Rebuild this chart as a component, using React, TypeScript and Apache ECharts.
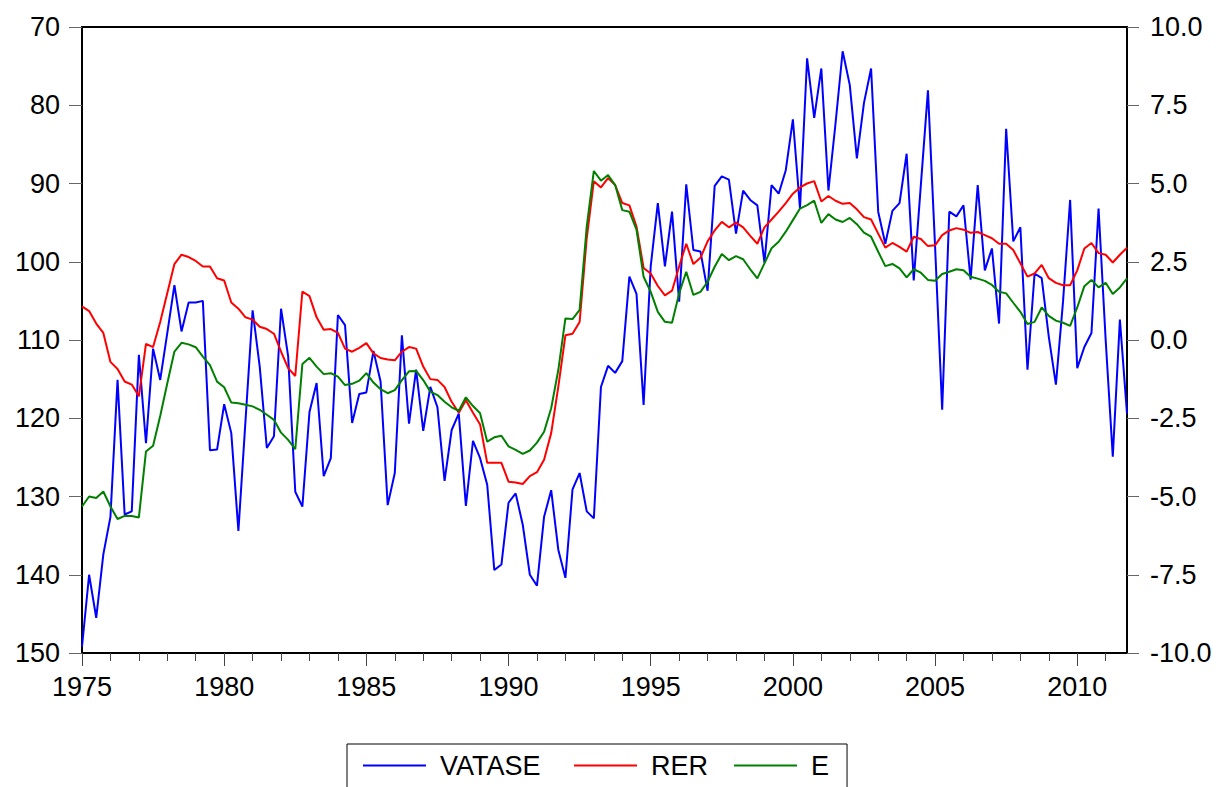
import React, { useEffect, useRef } from "react";
import * as echarts from "echarts";

// Quarterly observations 1975Q1 .. 2011Q4
const START_YEAR = 1975;
const END_YEAR = 2011;

const VATASE = [
  149.2, 140.0, 145.5, 137.4, 132.6, 115.1, 132.3, 131.9, 111.9, 123.2, 111.1, 115.1, 109.1, 103.0, 108.9, 105.2, 105.2, 105.0, 124.1, 124.0, 118.2, 121.9, 134.4, 120.3, 106.2,
  113.4, 123.8, 122.3, 106.0, 112.1, 129.4, 131.3, 119.2, 115.5, 127.4, 125.1, 106.8, 108.1, 120.6, 116.9, 116.7, 111.4, 115.3, 131.1, 127.0, 109.4, 120.7, 113.8, 121.6,
  116.0, 118.6, 128.0, 121.5, 119.4, 131.2, 122.9, 125.1, 128.5, 139.4, 138.7, 130.8, 129.6, 133.6, 140.0, 141.4, 132.6, 129.2, 136.8, 140.4, 129.1, 127.0, 131.9, 132.8,
  116.0, 113.3, 114.2, 112.7, 101.9, 104.1, 118.3, 100.6, 92.5, 100.6, 93.6, 105.1, 90.1, 98.5, 98.7, 103.7, 90.3, 89.1, 89.5, 96.4, 90.9, 92.1, 92.8, 100.1,
  90.2, 91.3, 88.3, 81.8, 93.2, 74.0, 81.6, 75.3, 90.9, 82.3, 73.1, 77.4, 86.8, 79.7, 75.3, 93.6, 97.7, 93.5, 92.5, 86.2, 102.4, 90.2, 78.1, 98.0,
  118.9, 93.6, 94.2, 92.8, 102.3, 90.2, 101.1, 98.3, 107.9, 83.0, 97.4, 95.6, 113.8, 101.5, 102.1, 109.6, 115.7, 105.1, 92.1, 113.6, 110.9, 109.1, 93.2, 110.0, 124.9, 107.4, 119.4,
];

const RER = [
  105.7, 106.3, 107.9, 109.1, 112.8, 113.7, 115.3, 115.7, 117.2, 110.5, 110.9, 107.7, 104.0, 100.3, 99.1, 99.4, 99.9, 100.6, 100.6, 102.1, 102.4, 105.2, 106.0, 107.1, 107.4,
  108.3, 108.6, 109.2, 111.5, 113.6, 114.6, 103.8, 104.4, 107.1, 108.7, 108.6, 109.1, 111.1, 111.5, 111.0, 110.4, 111.7, 112.3, 112.5, 112.6, 111.5, 110.9, 111.1, 113.4,
  115.0, 115.1, 116.0, 117.9, 119.3, 117.7, 119.3, 120.8, 125.7, 125.7, 125.7, 128.1, 128.2, 128.4, 127.4, 126.9, 125.3, 121.9, 116.0, 109.4, 109.2, 107.7, 97.0, 89.7,
  90.5, 89.3, 90.2, 92.5, 92.8, 95.5, 100.8, 101.5, 103.1, 104.3, 103.7, 100.6, 97.7, 100.3, 99.5, 97.4, 96.0, 94.9, 95.6, 95.0, 95.6, 96.7, 97.7, 95.6,
  94.6, 93.6, 92.5, 91.3, 90.5, 90.0, 89.7, 92.3, 91.6, 92.2, 92.6, 92.5, 93.3, 94.3, 94.6, 96.4, 98.2, 97.6, 98.1, 98.7, 96.8, 97.1, 98.0, 97.9,
  96.6, 96.0, 95.7, 95.9, 96.3, 96.2, 96.6, 97.0, 97.7, 97.7, 98.5, 100.2, 101.9, 101.5, 100.4, 102.1, 102.7, 103.0, 103.0, 101.1, 98.3, 97.6, 98.9, 99.1, 100.1, 99.1, 98.2,
];

const E = [
  -5.32, -5.0, -5.05, -4.84, -5.32, -5.72, -5.62, -5.62, -5.67, -3.56, -3.38, -2.43, -1.38, -0.37, -0.09, -0.14, -0.23, -0.53, -0.8, -1.33, -1.51, -2.0, -2.02, -2.07, -2.12,
  -2.23, -2.39, -2.55, -2.96, -3.19, -3.49, -0.77, -0.57, -0.85, -1.09, -1.06, -1.17, -1.44, -1.4, -1.3, -1.06, -1.36, -1.57, -1.7, -1.6, -1.28, -1.0, -0.99, -1.28,
  -1.65, -1.76, -1.97, -2.15, -2.26, -1.83, -2.11, -2.34, -3.25, -3.11, -3.06, -3.4, -3.51, -3.64, -3.53, -3.28, -2.93, -2.18, -0.96, 0.69, 0.67, 0.96, 3.62, 5.4,
  5.09, 5.27, 4.95, 4.15, 4.1, 3.53, 2.02, 1.54, 0.9, 0.58, 0.55, 1.49, 2.18, 1.44, 1.54, 1.86, 2.34, 2.75, 2.55, 2.68, 2.58, 2.26, 1.97, 2.45,
  2.93, 3.14, 3.46, 3.83, 4.2, 4.31, 4.45, 3.74, 4.02, 3.85, 3.77, 3.9, 3.7, 3.43, 3.3, 2.82, 2.36, 2.43, 2.29, 2.0, 2.26, 2.15, 1.92, 1.89,
  2.11, 2.18, 2.26, 2.23, 2.02, 1.96, 1.89, 1.76, 1.54, 1.49, 1.19, 0.9, 0.51, 0.58, 1.04, 0.77, 0.62, 0.55, 0.45, 1.04, 1.72, 1.92, 1.68, 1.83, 1.47, 1.68, 1.97,
];

const QUARTERS: string[] = [];
for (let y = START_YEAR; y <= END_YEAR; y++) {
  for (let q = 1; q <= 4; q++) QUARTERS.push(`${y}Q${q}`);
}

const SERIES_NAMES = ["VATASE", "RER", "E"];
const COLORS = ["#0000FF", "#FF0000", "#008000"];

export default function App() {
  const ref = useRef<HTMLDivElement>(null);

  useEffect(() => {
    if (!ref.current) return;
    const chart = echarts.init(ref.current, null, { renderer: "svg" });
    const font = "'Liberation Sans', Arial, Helvetica, sans-serif";
    const fs = 27;

    chart.setOption({
      animation: false,
      backgroundColor: "#ffffff",
      grid: {
        left: 82,
        right: 95,
        top: 27,
        bottom: 134,
        show: true,
        borderColor: "#000",
        borderWidth: 2,
        backgroundColor: "transparent",
      },
      legend: {
        left: 347,
        top: 744,
        orient: "horizontal",
        padding: [8, 18, 40, 16],
        itemGap: 26,
        itemWidth: 63,
        itemHeight: 2,
        icon: "rect",
        borderColor: "#000",
        borderWidth: 1,
        formatter: (name: string) => (name === "VATASE" ? name + " " : name),
        textStyle: { fontSize: fs, color: "#000", fontFamily: font, padding: [0, 0, 0, 9] },
        data: SERIES_NAMES,
      },
      xAxis: [
        {
          type: "category",
          data: QUARTERS,
          boundaryGap: false,
          position: "bottom",
          axisLine: { show: true, onZero: false, lineStyle: { color: "#000", width: 2 } },
          axisTick: {
            show: true,
            interval: (i: number) => i % 20 === 0,
            length: 13,
            lineStyle: { color: "#444", width: 1 },
          },
          axisLabel: {
            interval: (i: number) => i % 20 === 0,
            formatter: (v: string) => v.slice(0, 4),
            fontSize: fs,
            color: "#000",
            fontFamily: font,
            margin: 20,
          },
          splitLine: { show: false },
        },
        {
          type: "category",
          data: QUARTERS,
          boundaryGap: false,
          position: "bottom",
          axisLine: { show: false, onZero: false },
          axisTick: {
            show: true,
            interval: (i: number) => i % 4 === 0,
            length: 8,
            lineStyle: { color: "#444", width: 1 },
          },
          axisLabel: { show: false },
          splitLine: { show: false },
        },
      ],
      yAxis: [
        {
          type: "value",
          position: "left",
          inverse: true,
          min: 70,
          max: 150,
          interval: 10,
          axisLine: { show: true, onZero: false, lineStyle: { color: "#000", width: 2 } },
          axisTick: { show: true, length: 13, lineStyle: { color: "#666", width: 1 } },
          axisLabel: { fontSize: fs, color: "#000", fontFamily: font, margin: 22 },
          splitLine: { show: false },
        },
        {
          type: "value",
          position: "right",
          min: -10,
          max: 10,
          interval: 2.5,
          axisLine: { show: true, onZero: false, lineStyle: { color: "#000", width: 2 } },
          axisTick: { show: true, length: 12, lineStyle: { color: "#666", width: 1 } },
          axisLabel: {
            fontSize: fs,
            color: "#000",
            fontFamily: font,
            margin: 23,
            formatter: (v: number) => v.toFixed(1),
          },
          splitLine: { show: false },
        },
      ],
      series: [
        {
          name: "VATASE",
          type: "line",
          xAxisIndex: 0,
          yAxisIndex: 0,
          data: VATASE,
          symbol: "none",
          lineStyle: { color: COLORS[0], width: 2 },
          itemStyle: { color: COLORS[0] },
        },
        {
          name: "RER",
          type: "line",
          xAxisIndex: 0,
          yAxisIndex: 0,
          data: RER,
          symbol: "none",
          lineStyle: { color: COLORS[1], width: 2 },
          itemStyle: { color: COLORS[1] },
        },
        {
          name: "E",
          type: "line",
          xAxisIndex: 0,
          yAxisIndex: 1,
          data: E,
          symbol: "none",
          lineStyle: { color: COLORS[2], width: 2 },
          itemStyle: { color: COLORS[2] },
        },
      ],
    });

    return () => chart.dispose();
  }, []);

  return (
    <div
      ref={ref}
      style={{ position: "absolute", left: 0, top: 0, width: 1222, height: 787 }}
    />
  );
}
